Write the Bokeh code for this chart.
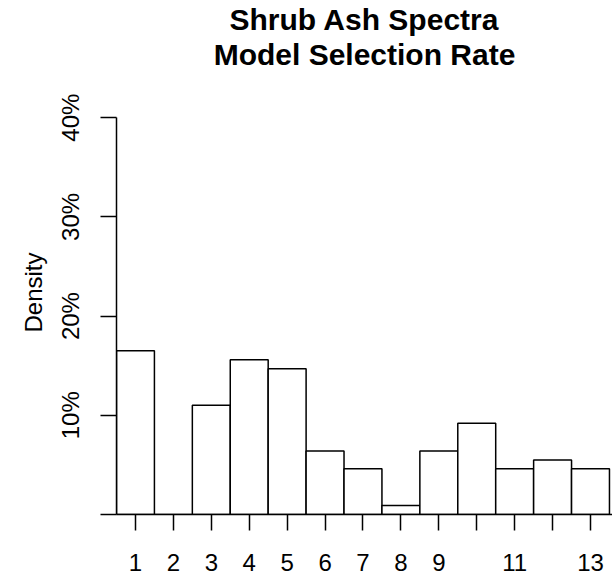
from bokeh.plotting import figure
from bokeh.models import Range1d, FixedTicker, Title
from bokeh.embed import file_html
from bokeh.resources import INLINE

# Data
bins = [1, 2, 3, 4, 5, 6, 7, 8, 9, 10, 11, 12, 13]
density_pct = [16.5, 0.0, 11.0, 15.6, 14.7, 6.4, 4.6, 0.9, 6.4, 9.2, 4.6, 5.5, 4.6]
x_tick_labels = {1: "1", 2: "2", 3: "3", 4: "4", 5: "5", 6: "6", 7: "7", 8: "8",
                 9: "9", 10: "", 11: "11", 12: "", 13: "13"}
y_ticks = [0, 10, 20, 30, 40]
y_tick_labels = {0: "", 10: "10%", 20: "20%", 30: "30%", 40: "40%"}
title_line1 = "Shrub Ash Spectra"
title_line2 = "Model Selection Rate"

FONT = "Liberation Sans"

p = figure(width=612, height=580, output_backend="svg", toolbar_location=None,
           x_range=Range1d(0.5, 13.58), y_range=Range1d(0, 44.75),
           min_border_left=116, min_border_right=0, min_border_bottom=66,
           min_border_top=0, title=None)

for txt in (title_line2, title_line1):
    t = Title(text=txt, text_font=FONT, text_font_size="30px", text_font_style="bold",
              align="center", standoff=0, text_color="black")
    p.add_layout(t, "above")

p.vbar(x=bins, top=density_pct, bottom=0, width=1.0,
       fill_color="white", line_color="black", line_width=1.5)

p.xgrid.visible = False
p.ygrid.visible = False
p.outline_line_color = None
p.background_fill_color = "white"
p.border_fill_color = "white"

xa = p.xaxis[0]
xa.ticker = FixedTicker(ticks=bins)
xa.major_label_overrides = x_tick_labels
xa.major_tick_out = 16
xa.major_tick_in = 0
xa.minor_tick_line_color = None
xa.major_label_text_font = FONT
xa.major_label_text_font_size = "24px"
xa.major_label_text_color = "black"
xa.major_label_standoff = 23
xa.axis_line_width = 1.5
xa.major_tick_line_width = 1.5
xa.axis_line_color = "black"
xa.major_tick_line_color = "black"

ya = p.yaxis[0]
ya.ticker = FixedTicker(ticks=y_ticks)
ya.bounds = (0, 40)
ya.major_label_overrides = y_tick_labels
ya.major_label_orientation = "vertical"
ya.major_tick_out = 16
ya.major_tick_in = 0
ya.minor_tick_line_color = None
ya.major_label_text_font = FONT
ya.major_label_text_font_size = "24px"
ya.major_label_text_color = "black"
ya.major_label_standoff = 16
ya.axis_line_width = 1.5
ya.major_tick_line_width = 1.5
ya.axis_line_color = "black"
ya.major_tick_line_color = "black"
ya.axis_label = "Density"
ya.axis_label_text_font = FONT
ya.axis_label_text_font_size = "24px"
ya.axis_label_text_font_style = "normal"
ya.axis_label_text_color = "black"
ya.axis_label_standoff = 8

open("out.html", "w").write(file_html(p, INLINE))
